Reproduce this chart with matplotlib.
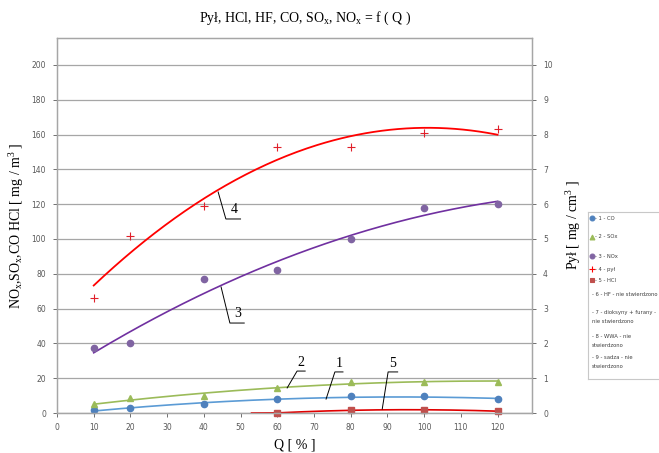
import numpy as np
import matplotlib
matplotlib.use("Agg")
import matplotlib.pyplot as plt

# data
q = [10, 20, 40, 60, 80, 100, 120]
co = [1.5, 3, 5, 8, 9.5, 9.5, 8]
sox = [5, 8.5, 9.5, 14.5, 18, 18, 18]
nox = [37.5, 40, 77, 82, 100, 118, 120]
pyl = [3.3, 5.1, 5.95, 7.65, 7.65, 8.05, 8.15]  # mg / cm3, right axis
q_hcl = [60, 80, 100, 120]
hcl = [0, 1.7, 1.7, 1.1]

x_ticks = list(range(0, 121, 10))
y_ticks = list(range(0, 201, 20))
y2_ticks = list(range(0, 11))

legend_rows = [
    ("- 1 - CO", "o", "#4F81BD"),
    ("- 2 - SOx", "^", "#9BBB59"),
    ("- 3 - NOx", "o", "#8064A2"),
    ("- 4 - pył", "+", "#FF0000"),
    ("- 5 - HCl", "s", "#C0504D"),
    ("- 6 - HF - nie stwierdzono", None, None),
    ("- 7 - dioksyny + furany -\nnie stwierdzono", None, None),
    ("- 8 - WWA - nie\nstwierdzono", None, None),
    ("- 9 - sadza - nie\nstwierdzono", None, None),
]

SERIF = "Liberation Serif"
TICK_C = "#595959"
GRID_C = "#a6a6a6"

plt.rcParams["mathtext.fontset"] = "custom"
plt.rcParams["mathtext.rm"] = SERIF
plt.rcParams["mathtext.it"] = SERIF + ":italic"

fig = plt.figure(figsize=(6.59, 4.53), dpi=100)
ax = fig.add_axes([0.0865, 0.0883, 0.7208, 0.8278])
ax2 = ax.twinx()

ax.set_xlim(0, 129.4)
ax.set_ylim(0, 215.5)
ax2.set_ylim(0, 215.5 / 20)
ax.set_xticks(x_ticks)
ax.set_yticks(y_ticks)
ax2.set_yticks(y2_ticks)
ax.yaxis.grid(True, color=GRID_C, lw=0.9)
ax.set_axisbelow(True)

for a in (ax, ax2):
    for s in a.spines.values():
        s.set_color(GRID_C)
        s.set_linewidth(0.9)
    a.tick_params(labelsize=5.5, colors=TICK_C, length=3, width=0.6, pad=5)
ax.tick_params(axis="x", pad=4)


def trend(x, y, x0, x1):
    c = np.polyfit(x, y, 2)
    xs = np.linspace(x0, x1, 200)
    return xs, np.polyval(c, xs)


# trend lines (2nd order, as in the spreadsheet)
xs, ys = trend(q, co, 10, 120)
ax.plot(xs, ys, color="#5B9BD5", lw=1.2)
xs, ys = trend(q, sox, 10, 120)
ax.plot(xs, ys, color="#9BBB59", lw=1.2)
xs, ys = trend(q, nox, 10, 120)
ax.plot(xs, ys, color="#7030A0", lw=1.2)
xs, ys = trend(q_hcl, hcl, 53, 120)
ax.plot(xs, np.clip(ys, 0, None), color="#E00000", lw=1.2)
xs, ys = trend(q, pyl, 10, 120)
ax2.plot(xs, ys, color="#FF0000", lw=1.3)

ax.plot(q, co, "o", color="#4F81BD", ms=4.5, clip_on=False)
ax.plot(q, sox, "^", color="#9BBB59", ms=4.5, clip_on=False)
ax.plot(q, nox, "o", color="#8064A2", ms=4.5, clip_on=False)
ax.plot(q_hcl, hcl, "s", color="#C0504D", ms=4.2, clip_on=False)
ax2.plot(q, pyl, "+", color="#E0202A", ms=5.5, mew=0.8)

# leader lines with curve numbers
leaders = [
    ("4", [(43.9, 127), (46.0, 111.5), (50.0, 111.5)], (47.2, 113)),
    ("3", [(44.7, 72.4), (47.1, 51.7), (51.0, 51.7)], (48.3, 53.2)),
    ("2", [(62.7, 14.4), (65.4, 24.1), (67.6, 24.1)], (65.6, 25.2)),
    ("1", [(73.3, 8.0), (75.7, 23.6), (77.9, 23.6)], (75.9, 24.7)),
    ("5", [(88.6, 2.3), (90.2, 23.6), (92.8, 23.6)], (90.6, 24.7)),
]
for txt, pts, tp in leaders:
    px, py = zip(*pts)
    ax.plot(px, py, color="black", lw=0.7)
    ax.text(tp[0], tp[1], txt, fontsize=10, family=SERIF, ha="left", va="bottom")

ax.set_xlabel("Q [ % ]", fontsize=10, family=SERIF, labelpad=5)
ax.set_ylabel(r"NO$_\mathrm{x}$,SO$_\mathrm{x}$,CO HCl [ mg / m$^\mathrm{3}$ ]",
              fontsize=10, family=SERIF, labelpad=4)
ax2.set_ylabel(r"Pył [ mg / cm$^\mathrm{3}$ ]", fontsize=10, family=SERIF, labelpad=8)
fig.text(305 / 659, 1 - 18 / 453,
         r"Pył, HCl, HF, CO, SO$_\mathrm{x}$, NO$_\mathrm{x}$ = f ( Q )",
         fontsize=10, family=SERIF, ha="center", va="center")

# legend box, partly cut by the right edge as in the original
lx0, ly0, ly1 = 588, 212, 379
lax = fig.add_axes([lx0 / 659, 1 - ly1 / 453, 100 / 659, (ly1 - ly0) / 453])
lax.set_xlim(0, 100)
lax.set_ylim(ly1, ly0)
lax.set_xticks([])
lax.set_yticks([])
for s in lax.spines.values():
    s.set_color("#c8c8c8")
    s.set_linewidth(0.8)
row_y = [218, 237, 256, 269, 280, 294, 317, 341, 362]
for (label, mk, col), yy in zip(legend_rows, row_y):
    if mk:
        lax.plot([4], [yy], mk, color=col, ms=3.5 if mk != "+" else 4.5, mew=0.8)
        lax.text(7, yy, label, fontsize=3.8, color="#404040", va="center")
    else:
        lax.text(4, yy, label, fontsize=3.8, color="#404040", va="center", linespacing=1.9)

fig.savefig("out.png", dpi=100)
